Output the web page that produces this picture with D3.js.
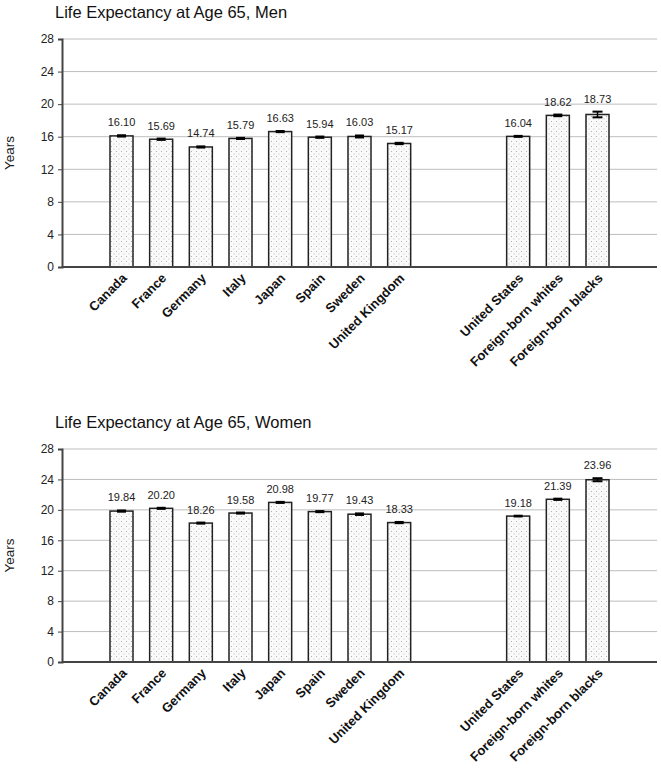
<!DOCTYPE html>
<html>
<head>
<meta charset="utf-8">
<script src="https://cdn.jsdelivr.net/npm/d3@7"></script>
<style>
  body { margin: 0; background: #fff; }
  svg { font-family: "Liberation Sans", Arial, sans-serif; }
</style>
</head>
<body>
<div id="chart"></div>
<script>
// slots: blanks keep the gaps at the ends and between the two groups
const slots = ['_a', 'Canada', 'France', 'Germany', 'Italy', 'Japan', 'Spain', 'Sweden', 'United Kingdom',
  '_b', '_c', 'United States', 'Foreign-born whites', 'Foreign-born blacks', '_d'];
const categories = ['Canada', 'France', 'Germany', 'Italy', 'Japan', 'Spain', 'Sweden', 'United Kingdom',
  'United States', 'Foreign-born whites', 'Foreign-born blacks'];
const menValues = [16.10, 15.69, 14.74, 15.79, 16.63, 15.94, 16.03, 15.17, 16.04, 18.62, 18.73];
const menErrors = [0.08, 0.08, 0.07, 0.07, 0.07, 0.08, 0.12, 0.08, 0.06, 0.1, 0.35];
const womenValues = [19.84, 20.20, 18.26, 19.58, 20.98, 19.77, 19.43, 18.33, 19.18, 21.39, 23.96];
const womenErrors = [0.08, 0.07, 0.07, 0.07, 0.07, 0.07, 0.1, 0.08, 0.05, 0.08, 0.2];
const yTicks = [0, 4, 8, 12, 16, 20, 24, 28];

const width = 661, height = 768;
const svg = d3.select('#chart').append('svg')
  .attr('width', width)
  .attr('height', height);

// dotted fill for the bars
const pat = svg.append('defs').append('pattern')
  .attr('id', 'dots')
  .attr('patternUnits', 'userSpaceOnUse')
  .attr('width', 5).attr('height', 5);
pat.append('rect').attr('width', 5).attr('height', 5).attr('fill', '#fafafa');
pat.append('rect').attr('x', 1).attr('y', 1).attr('width', 1).attr('height', 1).attr('fill', '#b0b0b0');
pat.append('rect').attr('x', 3.5).attr('y', 3.5).attr('width', 1).attr('height', 1).attr('fill', '#c4c4c4');

const x = d3.scaleBand().domain(slots).range([62, 657]).paddingInner(0.42).paddingOuter(0.21);

function drawPanel(title, values, errors, top, bottom, titleY) {
  const g = svg.append('g');
  const y = d3.scaleLinear().domain([0, 28]).range([bottom, top]);

  g.append('text')
    .attr('x', 55).attr('y', titleY)
    .attr('font-size', 16.5)
    .attr('fill', '#111')
    .text(title);

  // gridlines
  g.selectAll('line.grid')
    .data(yTicks.filter(d => d > 0))
    .join('line')
    .attr('class', 'grid')
    .attr('x1', 62).attr('x2', 657)
    .attr('y1', d => y(d)).attr('y2', d => y(d))
    .attr('stroke', '#bdbdbd')
    .attr('stroke-width', 1);

  const yAxis = g.append('g')
    .attr('transform', 'translate(62,0)')
    .call(d3.axisLeft(y).tickValues(yTicks).tickSize(4).tickPadding(4));
  yAxis.select('.domain').attr('stroke', '#444').attr('stroke-width', 2);
  yAxis.selectAll('.tick line').attr('stroke', '#444');
  yAxis.selectAll('text').attr('font-size', 12).attr('fill', '#222').attr('font-family', 'Liberation Sans, Arial, sans-serif');

  g.append('text')
    .attr('transform', `translate(14,${(top + bottom) / 2}) rotate(-90)`)
    .attr('text-anchor', 'middle')
    .attr('font-size', 13.5)
    .attr('fill', '#222')
    .text('Years');

  const bars = g.selectAll('g.bar')
    .data(categories.map((c, i) => ({ c, v: values[i], e: errors[i] })))
    .join('g')
    .attr('class', 'bar');

  bars.append('rect')
    .attr('x', d => x(d.c))
    .attr('y', d => y(d.v))
    .attr('width', x.bandwidth())
    .attr('height', d => bottom - y(d.v))
    .attr('fill', 'url(#dots)')
    .attr('stroke', '#222')
    .attr('stroke-width', 1.5);

  // error bars
  const cx = d => x(d.c) + x.bandwidth() / 2;
  bars.append('line')
    .attr('x1', cx).attr('x2', cx)
    .attr('y1', d => y(d.v + d.e)).attr('y2', d => y(d.v - d.e))
    .attr('stroke', '#000').attr('stroke-width', 1.5);
  bars.append('rect')
    .attr('x', d => cx(d) - 4.5)
    .attr('y', d => y(d.v + d.e) - 1)
    .attr('width', 9)
    .attr('height', d => Math.max(2.5, y(d.v - d.e) - y(d.v + d.e) + 2))
    .attr('fill', d => d.e > 0.15 ? 'none' : '#000');
  bars.filter(d => d.e > 0.15).each(function (d) {
    const s = d3.select(this);
    [d.v + d.e, d.v - d.e].forEach(v => {
      s.append('line')
        .attr('x1', cx(d) - 5).attr('x2', cx(d) + 5)
        .attr('y1', y(v)).attr('y2', y(v))
        .attr('stroke', '#000').attr('stroke-width', 2);
    });
  });

  bars.append('text')
    .attr('x', cx)
    .attr('y', d => y(d.v + d.e) - 9)
    .attr('text-anchor', 'middle')
    .attr('font-size', 11)
    .attr('fill', '#222')
    .text(d => d.v.toFixed(2));

  // baseline
  g.append('line')
    .attr('x1', 62).attr('x2', 657)
    .attr('y1', bottom).attr('y2', bottom)
    .attr('stroke', '#444').attr('stroke-width', 2);

  // rotated category labels
  g.selectAll('text.cat')
    .data(categories)
    .join('text')
    .attr('class', 'cat')
    .attr('text-anchor', 'end')
    .attr('font-size', 13)
    .attr('font-weight', 'bold')
    .attr('fill', '#111')
    .attr('transform', d => `translate(${x(d) + x.bandwidth() / 2 + 6},${bottom + 12}) rotate(-45)`)
    .text(d => d);
}

drawPanel('Life Expectancy at Age 65, Men', menValues, menErrors, 39, 267, 18);
drawPanel('Life Expectancy at Age 65, Women', womenValues, womenErrors, 449, 662, 428);
</script>
</body>
</html>
